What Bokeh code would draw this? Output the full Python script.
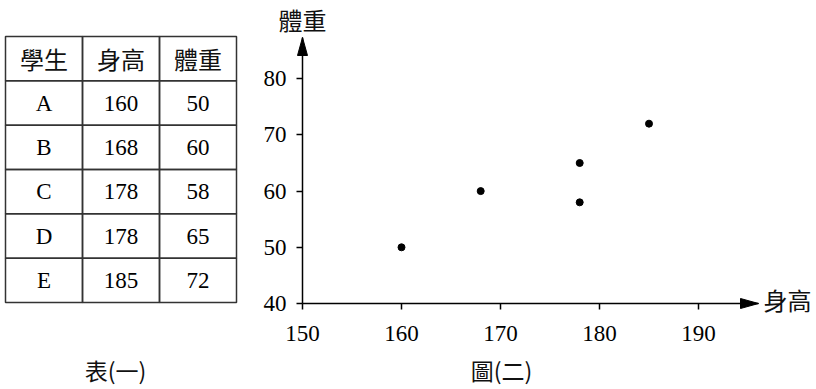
from bokeh.plotting import figure
from bokeh.models import Range1d, FixedTicker, LinearAxis
from bokeh.layouts import row
from bokeh.embed import file_html
from bokeh.resources import INLINE
from bokeh.core.properties import value

# ---- data ----
students = ["A", "B", "C", "D", "E"]
heights = [160, 168, 178, 178, 185]
weights = [50, 60, 58, 65, 72]
headers = ["學生", "身高", "體重"]
x_ticks = [150, 160, 170, 180, 190]
y_ticks = [40, 50, 60, 70, 80]
x_label = "身高"
y_label = "體重"
table_caption = "表(一)"
plot_caption = "圖(二)"

CJK = "Noto Sans CJK TC"
SERIF = "Liberation Serif"
NUM_SIZE = "23px"
CJK_SIZE = "24px"
CAP_SIZE = "23px"

# ---- table figure (frame covers the whole figure) ----
COLW = 77.0     # px per column
ROWH = 44.33    # px per row
ncols = len(headers)
nrows = len(students) + 1
TW, TH = 250, 389
t = figure(width=TW, height=TH, output_backend="svg", toolbar_location=None,
           x_range=Range1d(-5 / COLW, (TW - 5) / COLW),
           y_range=Range1d(-(TH - 302) / ROWH, 302 / ROWH),
           x_axis_type=None, y_axis_type=None,
           min_border=0)
t.grid.visible = False
t.outline_line_color = None

cell_x, cell_y = [], []
for r in range(nrows):
    for c in range(ncols):
        cell_x.append(c + 0.5)
        cell_y.append(nrows - 0.5 - r)
t.rect(x=cell_x, y=cell_y, width=1, height=1, fill_color=None,
       line_color="#333333", line_width=1.5)

hx = [c + 0.5 for c in range(ncols)]
hy = [nrows - 0.5] * ncols
t.text(x=hx, y=hy, text=headers, text_align="center", text_baseline="middle",
       text_font=value(CJK), text_font_size=CJK_SIZE, text_color="#111111")

bx, by, bt = [], [], []
for i, (s, h, w) in enumerate(zip(students, heights, weights)):
    yy = nrows - 1.5 - i
    for c, v in enumerate([s, str(h), str(w)]):
        bx.append(c + 0.5)
        by.append(yy)
        bt.append(v)
t.text(x=bx, y=by, text=bt, text_align="center", text_baseline="middle",
       text_font=value(SERIF), text_font_size=NUM_SIZE, text_color="black")

t.text(x=[1.43], y=[-(369 - 302) / ROWH], text=[table_caption], text_align="center",
       text_baseline="middle", text_font=value(CJK), text_font_size=CAP_SIZE,
       text_color="#111111")

# ---- scatter figure (frame covers whole figure; axes at fixed locations) ----
PXX, PXY = 9.9, 5.62          # px per data unit
X0, Y0 = 150, 40
PW, PH = 566, 389
AX_LEFT_PX, AX_BOTTOM_PX = 52, 86   # axis origin from left / bottom edge
XA = X0 - AX_LEFT_PX / PXX
YB = Y0 - AX_BOTTOM_PX / PXY
X_END = X0 + 456 / PXX
Y_END = Y0 + 266 / PXY

p = figure(width=PW, height=PH, output_backend="svg", toolbar_location=None,
           x_range=Range1d(XA, XA + PW / PXX), y_range=Range1d(YB, YB + PH / PXY),
           x_axis_type=None, y_axis_type=None, min_border=0)
p.grid.visible = False
p.outline_line_color = None

xaxis = LinearAxis(fixed_location=Y0, bounds=(X0, X_END), ticker=FixedTicker(ticks=x_ticks))
yaxis = LinearAxis(fixed_location=X0, bounds=(Y0, Y_END), ticker=FixedTicker(ticks=y_ticks))
for ax in (xaxis, yaxis):
    ax.axis_line_width = 1.5
    ax.axis_line_color = "black"
    ax.major_tick_line_width = 1.5
    ax.major_tick_line_color = "black"
    ax.major_tick_out = 6
    ax.major_tick_in = 0
    ax.minor_tick_line_color = None
    ax.major_label_text_font = SERIF
    ax.major_label_text_font_size = NUM_SIZE
    ax.major_label_text_color = "black"
xaxis.major_label_standoff = 16
yaxis.major_label_standoff = 10
p.add_layout(xaxis, "below")
p.add_layout(yaxis, "left")

p.scatter(heights, weights, size=7, color="black")

# arrow heads (18 px long, 10 px wide)
p.patch([X_END, X_END - 18 / PXX, X_END - 18 / PXX],
        [Y0, Y0 + 5 / PXY, Y0 - 5 / PXY], color="black", line_width=1)
p.patch([X0, X0 - 5 / PXX, X0 + 5 / PXX],
        [Y_END, Y_END - 18 / PXY, Y_END - 18 / PXY], color="black", line_width=1)

p.text(x=[X_END + 5 / PXX], y=[Y0 + 4 / PXY], text=[x_label], text_align="left",
       text_baseline="middle", text_font=value(CJK), text_font_size=CJK_SIZE,
       text_color="#111111")
p.text(x=[X0], y=[Y_END + 18 / PXY], text=[y_label], text_align="center",
       text_baseline="middle", text_font=value(CJK), text_font_size=CJK_SIZE,
       text_color="#111111")
p.text(x=[170.1], y=[Y0 - 66 / PXY], text=[plot_caption], text_align="center",
       text_baseline="middle", text_font=value(CJK), text_font_size=CAP_SIZE,
       text_color="#111111")

layout = row(t, p, spacing=0)
open("out.html", "w").write(file_html(layout, INLINE))
